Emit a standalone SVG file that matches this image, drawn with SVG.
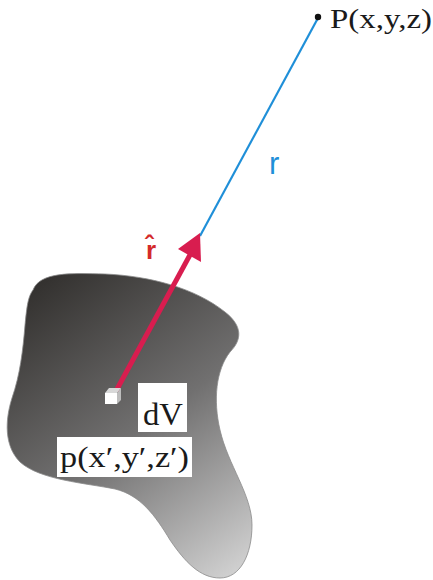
<svg xmlns="http://www.w3.org/2000/svg" width="433" height="580" viewBox="0 0 433 580">
<style>
.serif{font-family:"Liberation Serif","Times New Roman",serif;fill:#1a1a1a}
.box{fill:#ffffff}
</style>
<defs>
<linearGradient id="g" gradientUnits="userSpaceOnUse" x1="40" y1="285" x2="245" y2="570">
<stop offset="0" stop-color="#343230"/>
<stop offset="0.5" stop-color="#717070"/>
<stop offset="1" stop-color="#d2d2d2"/>
</linearGradient>
</defs>
<rect width="433" height="580" fill="#ffffff"/>
<g id="volume">
<path d="M 33,290 C 40,272 70,273 105,274 C 150,276 195,288 225,312 C 243,326 242,340 230,352 C 216,370 213,400 220,430 C 228,465 252,495 252,525 C 252,555 240,578 220,578 C 200,578 185,562 170,540 C 155,515 140,495 115,489 C 85,483 40,480 20,462 C 4,446 5,420 12,398 C 20,375 23,350 25,325 C 27,305 28,297 33,290 Z" fill="url(#g)" stroke="#8a8a8a" stroke-width="0.8"/>
</g>
<g id="connectors">
<line x1="318" y1="18" x2="200" y2="236" stroke="#1f8fd8" stroke-width="2.2"/>
<line x1="116" y1="391" x2="191" y2="253" stroke="#d81d4f" stroke-width="5"/>
<polygon points="200,233 178,249 201,262" fill="#d81d4f"/>
</g>
<g id="dV-element">
<polygon points="105,393 109,388 121,388 117,393" fill="#d8d8d8"/>
<polygon points="117,393 121,388 121,400 117,404" fill="#bdbdbd"/>
<rect x="105" y="393" width="12" height="11" fill="#ffffff"/>
</g>
<g id="dV-label">
<rect class="box" x="138" y="383" width="49" height="49"/>
<text class="serif" x="143" y="425" font-size="31" textLength="40" lengthAdjust="spacingAndGlyphs">dV</text>
</g>
<g id="p-label">
<rect class="box" x="57" y="437" width="135" height="40"/>
<text class="serif" x="60" y="467" font-size="30" textLength="129" lengthAdjust="spacingAndGlyphs">p(x′,y′,z′)</text>
</g>
<g id="P-point">
<circle cx="318" cy="17" r="3.2" fill="#111111"/>
<text class="serif" x="330" y="28" font-size="28" textLength="102" lengthAdjust="spacingAndGlyphs">P(x,y,z)</text>
</g>
<g id="r-label">
<text x="269" y="174" font-family="Liberation Sans, Arial, sans-serif" font-size="31" fill="#1f8fd8">r</text>
</g>
<g id="rhat-label">
<text x="146" y="259" font-family="Liberation Sans, Arial, sans-serif" font-weight="bold" font-size="26" fill="#d42a2a">r̂</text>
</g>
</svg>
